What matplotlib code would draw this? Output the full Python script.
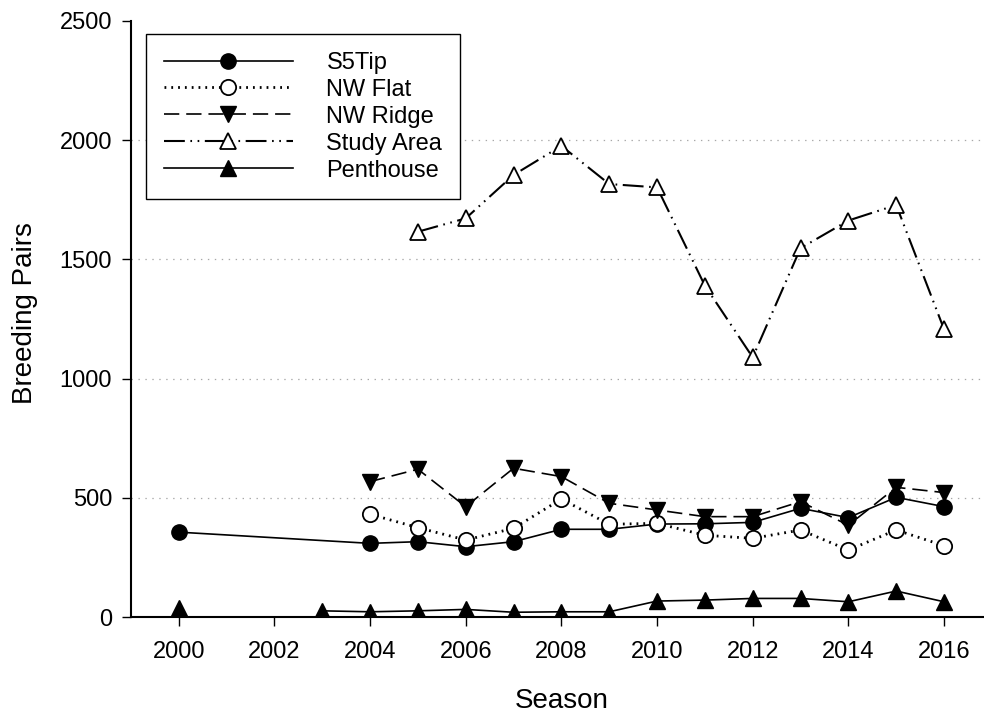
import numpy as np
import matplotlib
matplotlib.use("Agg")
import matplotlib.pyplot as plt

plt.rcParams['font.family'] = ['Liberation Sans', 'DejaVu Sans']
plt.rcParams['lines.scale_dashes'] = False

# ---- data ----
s5tip_years = [2000, 2004, 2005, 2006, 2007, 2008, 2009, 2010, 2011, 2012, 2013, 2014, 2015, 2016]
s5tip = [356, 309, 316, 295, 316, 368, 368, 390, 391, 397, 456, 417, 502, 463]

nw_years = [2004, 2005, 2006, 2007, 2008, 2009, 2010, 2011, 2012, 2013, 2014, 2015, 2016]
nw_flat = [431, 375, 323, 372, 495, 389, 393, 343, 330, 365, 281, 365, 299]
nw_ridge = [568, 620, 463, 624, 589, 477, 449, 421, 421, 484, 385, 544, 522]

study_years = [2005, 2006, 2007, 2008, 2009, 2010, 2011, 2012, 2013, 2014, 2015, 2016]
study_area = [1616, 1672, 1854, 1976, 1816, 1802, 1390, 1089, 1547, 1663, 1728, 1207]

pent_years = [2000, 2001, 2002, 2003, 2004, 2005, 2006, 2007, 2008, 2009, 2010, 2011, 2012, 2013, 2014, 2015, 2016]
penthouse = [39, np.nan, np.nan, 26, 22, 26, 32, 20, 22, 22, 67, 71, 78, 78, 64, 109, 64]

x_ticks = [2000, 2002, 2004, 2006, 2008, 2010, 2012, 2014, 2016]
y_ticks = [0, 500, 1000, 1500, 2000, 2500]

# ---- figure ----
fig = plt.figure(figsize=(9.84, 7.13), dpi=100)
# axes runs slightly past the right edge of the picture, as in the reference
ax = fig.add_axes([0.133, 0.1346, 0.875, 0.836])

lw = 1.2
ms = 11
ax.plot(s5tip_years, s5tip, color='black', lw=lw, ls='-', marker='o', ms=ms,
        mfc='black', mec='black', label='S5Tip', zorder=3)
ax.plot(nw_years, nw_flat, color='black', lw=2.0, ls=(0, (1.3, 3.6)), marker='o', ms=ms,
        mfc='white', mec='black', mew=1.3, label='NW Flat', zorder=3)
ax.plot(nw_years, nw_ridge, color='black', lw=lw, ls=(0, (11, 5)), marker='v', ms=ms,
        mfc='black', mec='black', label='NW Ridge', zorder=3)
ax.plot(study_years, study_area, color='black', lw=1.5, ls=(0, (15, 4, 1.2, 4, 1.2, 4)),
        marker='^', ms=ms, mfc='white', mec='black', mew=1.3, label='Study Area', zorder=3)
ax.plot(pent_years, penthouse, color='black', lw=lw, ls='-', marker='^', ms=ms,
        mfc='black', mec='black', label='Penthouse', zorder=3)

ax.set_xlim(1999, 2017)
ax.set_ylim(0, 2500)
ax.set_xticks(x_ticks)
ax.set_yticks(y_ticks)
ax.tick_params(axis='both', direction='out', length=6.5, width=1.0, labelsize=17)
ax.tick_params(axis='x', pad=11)
ax.tick_params(axis='y', pad=7)

for y in [500, 1000, 1500, 2000]:
    ax.axhline(y, color='#a8a8a8', lw=0.9, ls=(0, (1, 4)), zorder=1)

for s in ['top', 'right']:
    ax.spines[s].set_visible(False)
for s in ['left', 'bottom']:
    ax.spines[s].set_linewidth(1.5)

ax.set_xlabel('Season', fontsize=20)
ax.set_ylabel('Breeding Pairs', fontsize=20)
ax.xaxis.set_label_coords(0.5, -0.119)
ax.yaxis.set_label_coords(-0.108, 0.51)

leg = ax.legend(loc='upper left', bbox_to_anchor=(0.0174, 0.978), borderaxespad=0,
                fontsize=17, handlelength=5.5, handletextpad=1.4, labelspacing=0.21,
                borderpad=0.75, fancybox=False, framealpha=1, edgecolor='black')
leg.get_frame().set_linewidth(1.0)

fig.savefig('out.png', dpi=100)
